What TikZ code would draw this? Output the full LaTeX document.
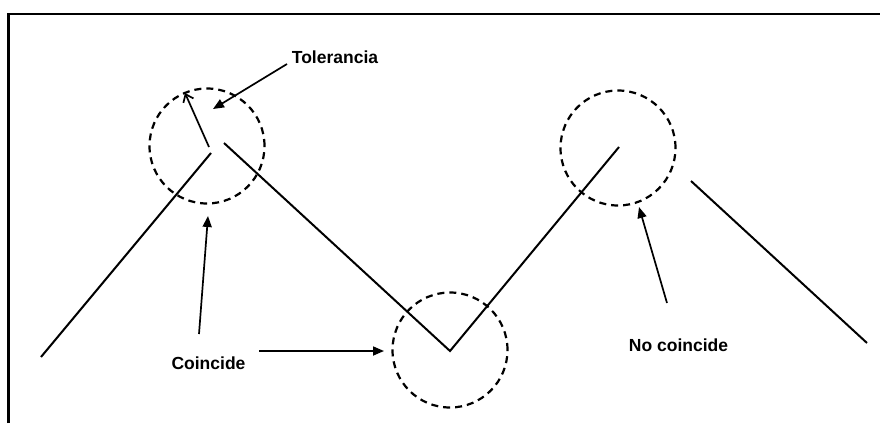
\documentclass[tikz,border=0pt]{standalone}
\usepackage{fontspec}
\setmainfont{Liberation Sans}
\usetikzlibrary{arrows.meta}
\begin{document}
\begin{tikzpicture}[x=1pt,y=-1pt,
  frameline/.style={line width=2.2pt},
  segment/.style={line width=2pt},
  tolzone/.style={circle,draw,dashed,dash pattern=on 7pt off 5pt,line width=2.2pt,
                  minimum size=115pt,inner sep=0pt},
  label/.style={font=\bfseries\fontsize{17.5}{20}\selectfont,inner sep=0pt,anchor=base},
  pointer/.style={line width=1.7pt,-{Triangle[length=11pt,width=9pt]}},
  radius/.style={line width=1.7pt,-{Straight Barb[length=7pt,width=11pt]}}]
\useasboundingbox (0,0) rectangle (880,423);

% open frame: top and left edges
\coordinate (fl) at (8.5,423);
\coordinate (ftl) at (8.5,14);
\coordinate (ftr) at (880,14);
\draw[frameline] (fl) -- (ftl) -- (ftr);

% polyline end points
\coordinate (a0) at (41,357);
\coordinate (a1) at (211,153);
\coordinate (b0) at (224,143);
\coordinate (v)  at (450,351);
\coordinate (b1) at (619,147);
\coordinate (d0) at (691,181);
\coordinate (d1) at (867,343);

\draw[segment] (a0) -- (a1);
\draw[segment] (b0) -- (v) -- (b1);
\draw[segment] (d0) -- (d1);

% tolerance circles
\node[tolzone] (c1) at (207,146) {};
\node[tolzone] (c2) at (450,350) {};
\node[tolzone] (c3) at (618,148) {};

% labels
\node[label] (tol) at (335,63.5) {Tolerancia};
\node[label] (coin) at (208.5,369.5) {Coincide};
\node[label] (nocoin) at (678.5,351.5) {No coincide};

% arrow end points
\coordinate (rt) at (209,147);
\coordinate (rh) at (185,93);
\coordinate (tt) at (287,64);
\coordinate (th) at (213,109);
\coordinate (ut) at (199,334);
\coordinate (uh) at (208,216);
\coordinate (st) at (259,351);
\coordinate (sh) at (384,351);
\coordinate (nt) at (667,303);
\coordinate (nh) at (639,207);

\draw[radius] (rt) -- (rh);
\draw[pointer] (tt) -- (th);
\draw[pointer] (ut) -- (uh);
\draw[pointer] (st) -- (sh);
\draw[pointer] (nt) -- (nh);
\end{tikzpicture}
\end{document}
